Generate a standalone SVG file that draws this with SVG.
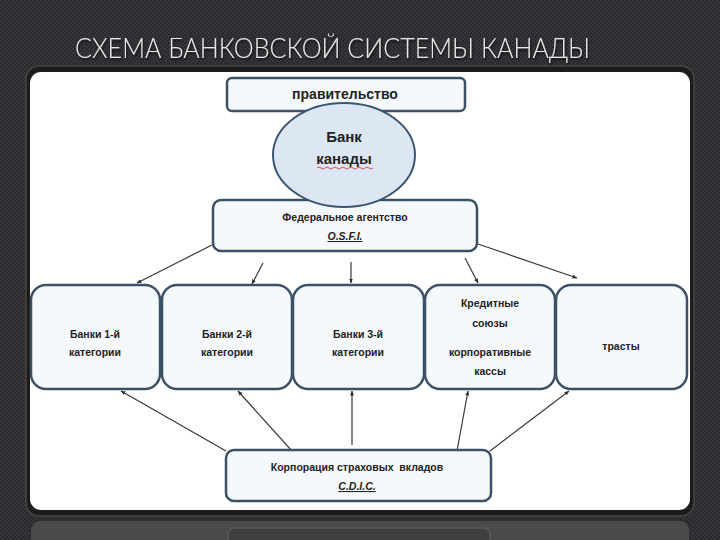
<svg xmlns="http://www.w3.org/2000/svg" width="720" height="540" viewBox="0 0 720 540">
<defs>
<pattern id="bgdots" width="4" height="4" patternUnits="userSpaceOnUse">
<rect width="4" height="4" fill="#2a2b2e"/>
<circle cx="1" cy="1" r="0.9" fill="#3d3e42"/>
<circle cx="3" cy="3" r="0.9" fill="#37383c"/>
</pattern>
<marker id="arr" viewBox="0 0 10 10" refX="9" refY="5" markerWidth="5" markerHeight="5" orient="auto" markerUnits="userSpaceOnUse">
<path d="M0,1 L10,5 L0,9 z" fill="#333"/>
</marker>
<filter id="tsh" x="-5%" y="-20%" width="110%" height="150%">
<feDropShadow dx="1" dy="2" stdDeviation="1.2" flood-color="#000" flood-opacity="0.7"/>
</filter>
</defs>
<style>
.box{fill:#f5f9fd;stroke:#3d5166;stroke-width:2.5}
.t{font-family:"Liberation Sans",Arial,sans-serif;font-weight:bold;fill:#222;text-anchor:middle}
.s{font-size:10.5px}
.abbr{font-style:italic;text-decoration:underline}
.con line{stroke:#3a3a3a;stroke-width:1.2;marker-end:url(#arr)}
</style>
<rect width="720" height="540" fill="url(#bgdots)"/>
<text x="75" y="58" font-family="Lato,'DejaVu Sans',sans-serif" font-weight="300" font-size="27" fill="#e8e8e8" textLength="515" lengthAdjust="spacingAndGlyphs" filter="url(#tsh)">СХЕМА БАНКОВСКОЙ СИСТЕМЫ КАНАДЫ</text>
<rect x="26" y="66" width="668" height="450" rx="13" fill="#1e1c1a" stroke="#4a4540" stroke-width="1.5"/>
<rect x="30" y="72" width="660" height="438" rx="11" fill="#ffffff"/>
<rect x="30" y="520" width="660" height="40" rx="10" fill="#4a4a4c" stroke="#2a2a2a" stroke-width="1.5"/>
<rect x="228" y="528" width="262" height="30" rx="6" fill="#3f3f41" stroke="#5a5a5c" stroke-width="1.5"/>

<g class="con" id="connectors">
<line x1="212" y1="245" x2="137" y2="283"/>
<line x1="263" y1="263" x2="252" y2="284"/>
<line x1="351" y1="262" x2="351" y2="283"/>
<line x1="465" y1="258" x2="478" y2="283"/>
<line x1="478" y1="244" x2="577" y2="278"/>
<line x1="226" y1="451" x2="121" y2="391"/>
<line x1="292" y1="451" x2="238" y2="391"/>
<line x1="352" y1="445" x2="352" y2="391"/>
<line x1="457" y1="451" x2="468" y2="391"/>
<line x1="490" y1="451" x2="569" y2="391"/>
</g>

<g id="gov">
<rect class="box" x="227" y="78" width="238" height="33" rx="5"/>
<text class="t" x="345" y="99" font-size="14">правительство</text>
</g>
<g id="fed">
<rect class="box" x="213" y="200" width="264" height="51" rx="8"/>
<text class="t s" x="345" y="221">Федеральное агентство</text>
<text class="t s abbr" x="345" y="240">O.S.F.I.</text>
</g>
<g id="boc">
<ellipse cx="344" cy="155" rx="71" ry="52" fill="#dde7f3" stroke="#3b5575" stroke-width="2"/>
<text class="t" x="344" y="142" font-size="15">Банк</text>
<text class="t" x="344" y="164" font-size="15">канады</text>
<path d="M317,168 q2,-2 4,0 t4,0 t4,0 t4,0 t4,0 t4,0 t4,0 t4,0 t4,0 t4,0 t4,0 t4,0 t4,0 t4,0" fill="none" stroke="#d03030" stroke-width="0.8"/>
</g>
<g id="b1">
<rect class="box" x="31" y="285" width="129" height="104" rx="15"/>
<text class="t s" x="95" y="338">Банки 1-й</text>
<text class="t s" x="95" y="356">категории</text>
</g>
<g id="b2">
<rect class="box" x="162" y="285" width="130" height="104" rx="15"/>
<text class="t s" x="227" y="338">Банки 2-й</text>
<text class="t s" x="227" y="356">категории</text>
</g>
<g id="b3">
<rect class="box" x="293" y="285" width="131" height="104" rx="15"/>
<text class="t s" x="358" y="338">Банки 3-й</text>
<text class="t s" x="358" y="356">категории</text>
</g>
<g id="b4">
<rect class="box" x="425" y="285" width="130" height="104" rx="15"/>
<text class="t s" x="490" y="307">Кредитные</text>
<text class="t s" x="490" y="327">союзы</text>
<text class="t s" x="490" y="356">корпоративные</text>
<text class="t s" x="490" y="375">кассы</text>
</g>
<g id="b5">
<rect class="box" x="556" y="285" width="131" height="104" rx="15"/>
<text class="t s" x="621" y="350">трасты</text>
</g>
<g id="cdic">
<rect class="box" x="226" y="450" width="265" height="51" rx="8"/>
<text class="t s" x="357" y="471" xml:space="preserve">Корпорация страховых  вкладов</text>
<text class="t s abbr" x="357" y="490">C.D.I.C.</text>
</g>
</svg>
